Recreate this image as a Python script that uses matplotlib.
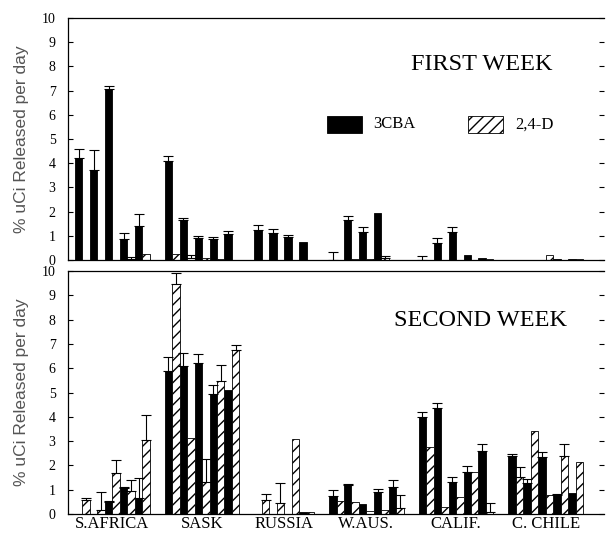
import numpy as np
import matplotlib
matplotlib.use("Agg")
import matplotlib.pyplot as plt
from matplotlib.patches import Rectangle

nan = np.nan

groups = ["S.AFRICA", "SASK", "RUSSIA", "W.AUS.", "CALIF.", "C. CHILE"]
pairs_per_group = [5, 5, 4, 5, 5, 5]

# FIRST WEEK
cba_week1 = [4.2, 3.7, 7.05, 0.85, 1.4,
             4.1, 1.65, 0.9, 0.88, 1.07,
             1.25, 1.1, 0.95, 0.75,
             0.0, 1.65, 1.15, 1.95, 0.02,
             0.0, 0.7, 1.15, 0.2, 0.07,
             0.0, 0.0, 0.0, 0.05, 0.05]
cba_week1_errtop = [4.6, 4.55, 7.2, 1.1, 1.9,
                    4.3, 1.75, 1.0, 0.97, 1.2,
                    1.45, 1.3, 1.05, nan,
                    0.35, 1.8, 1.35, nan, nan,
                    0.15, 0.9, 1.35, nan, nan,
                    nan, nan, nan, nan, nan]
d24_week1 = [0.0, 0.0, 0.0, 0.05, 0.25,
             0.25, 0.1, 0.1, 0.05, 0.02,
             0.0, 0.02, 0.02, 0.0,
             0.0, 0.05, 0.05, 0.1, 0.02,
             0.0, 0.0, 0.0, 0.0, 0.03,
             0.0, 0.0, 0.2, 0.02, 0.05]
d24_week1_errtop = [nan, nan, nan, 0.12, nan,
                    nan, 0.2, nan, nan, nan,
                    nan, nan, nan, nan,
                    nan, nan, nan, 0.15, nan,
                    nan, nan, nan, nan, nan,
                    nan, nan, nan, nan, nan]

# SECOND WEEK
cba_week2 = [0.0, 0.0, 0.5, 1.05, 0.65,
             5.9, 6.07, 6.23, 4.95, 5.12,
             0.0, 0.0, 0.0, 0.08,
             0.74, 1.19, 0.41, 0.89, 1.1,
             4.0, 4.37, 1.33, 1.71, 2.59,
             2.4, 1.26, 2.33, 0.78, 0.85]
cba_week2_errtop = [nan, nan, 0.55, 1.1, 1.47,
                    6.45, 6.64, 6.57, 5.32, nan,
                    nan, nan, nan, nan,
                    1.0, 1.22, nan, 1.03, 1.4,
                    4.2, 4.55, 1.51, 1.97, 2.88,
                    2.46, 1.44, 2.54, 0.84, nan]
d24_week2 = [0.58, 0.16, 1.67, 0.95, 3.05,
             9.45, 3.11, 1.32, 5.47, 6.76,
             0.58, 0.44, 3.09, 0.1,
             0.55, 0.48, 0.12, 0.15, 0.23,
             2.74, 0.3, 0.71, 1.74, 0.1,
             1.54, 3.41, 0.78, 2.4, 2.13]
d24_week2_errtop = [0.65, 0.9, 2.22, 1.4, 4.07,
                    9.9, nan, 2.27, 6.14, 6.97,
                    0.82, 1.29, nan, nan,
                    nan, nan, nan, nan, 0.78,
                    nan, nan, nan, nan, 0.44,
                    1.92, nan, nan, 2.88, nan]

yticks = list(range(0, 11))
ylabel = "% uCi Released per day"
panel_titles = ["FIRST WEEK", "SECOND WEEK"]
legend_labels = ["3CBA", "2,4-D"]

# ---- layout ----
slots = []
centers = []
start = 0
for n in pairs_per_group:
    slots.extend(range(start, start + n))
    centers.append(start + n / 2)
    start += n + 1
slots = np.array(slots, dtype=float)
bw = 0.5

SERIF = "Liberation Serif"
SANS = "Liberation Sans"

W, H = 606, 533
fig = plt.figure(figsize=(W / 100, H / 100), dpi=100)
ax1 = fig.add_axes([68 / W, 1 - 260 / H, (604 - 68) / W, 242 / H])
ax2 = fig.add_axes([68 / W, 1 - 514 / H, (604 - 68) / W, 243 / H])

def draw(ax, cba, cba_err, d24, d24_err):
    cba = np.array(cba); d24 = np.array(d24)
    cba_err = np.array(cba_err); d24_err = np.array(d24_err)
    ax.bar(slots, cba, width=bw, align="edge", color="black",
           edgecolor="black", linewidth=0.6, zorder=2)
    ax.bar(slots + bw, d24, width=bw, align="edge", color="white",
           edgecolor="black", linewidth=0.6, hatch="///", zorder=2)
    for xs, v, e in ((slots + bw / 2, cba, cba_err), (slots + 1.5 * bw, d24, d24_err)):
        m = ~np.isnan(e)
        ax.errorbar(xs[m], v[m], yerr=[np.zeros(m.sum()), e[m] - v[m]],
                    fmt="none", ecolor="black", elinewidth=0.8,
                    capsize=3.5, capthick=0.8, zorder=3)
    ax.set_xlim(-0.47, 35.4)
    ax.set_ylim(0, 10)
    ax.set_yticks(yticks)
    ax.set_yticklabels([str(t) for t in yticks], fontfamily=SERIF, fontsize=10)
    ax.tick_params(axis="y", direction="in", length=3.5, width=0.8,
                   left=True, right=True, pad=9)
    ax.spines["right"].set_visible(False)
    for s in ("left", "top", "bottom"):
        ax.spines[s].set_linewidth(0.9)
    ax.set_ylabel(ylabel, fontfamily=SANS, fontsize=12.5, color="#555555",
                  labelpad=9)

draw(ax1, cba_week1, cba_week1_errtop, d24_week1, d24_week1_errtop)
draw(ax2, cba_week2, cba_week2_errtop, d24_week2, d24_week2_errtop)

ax1.set_xticks([])
ax2.set_xticks(centers)
ax2.set_xticklabels(groups, fontfamily=SERIF, fontsize=12)
ax2.tick_params(axis="x", length=0, pad=1.5)

ax1.text(0.772, 0.806, panel_titles[0], transform=ax1.transAxes,
         ha="center", va="center", fontfamily=SERIF, fontsize=17.5)
ax2.text(0.769, 0.798, panel_titles[1], transform=ax2.transAxes,
         ha="center", va="center", fontfamily=SERIF, fontsize=17.5)

# legend
ax1.add_patch(Rectangle((0.483, 0.525), 0.065, 0.07, transform=ax1.transAxes,
                        facecolor="black", edgecolor="black", lw=0.6))
ax1.text(0.569, 0.56, legend_labels[0], transform=ax1.transAxes,
         ha="left", va="center", fontfamily=SERIF, fontsize=12)
ax1.add_patch(Rectangle((0.746, 0.525), 0.065, 0.07, transform=ax1.transAxes,
                        facecolor="white", edgecolor="black", lw=0.6, hatch="///"))
ax1.text(0.834, 0.56, legend_labels[1], transform=ax1.transAxes,
         ha="left", va="center", fontfamily=SERIF, fontsize=12)

fig.savefig("out.png", dpi=100)
